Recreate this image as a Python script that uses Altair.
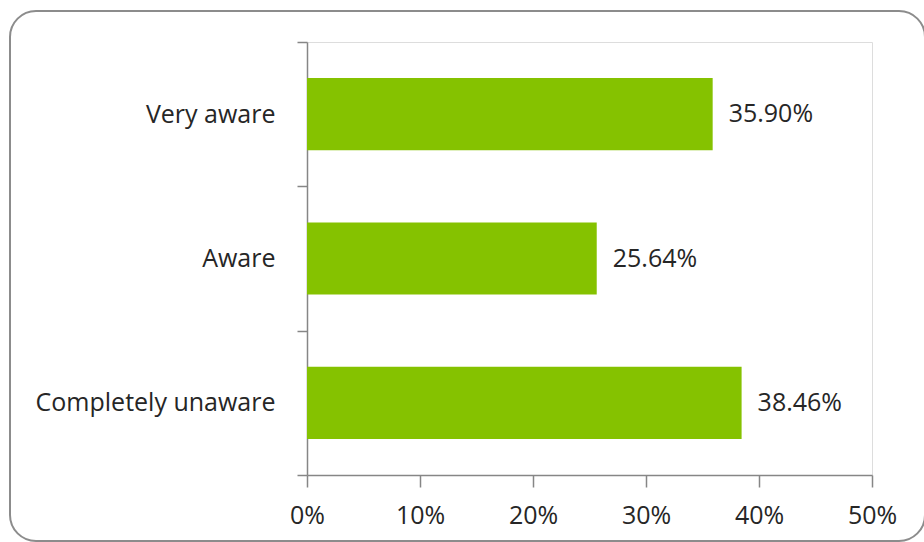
import altair as alt
import pandas as pd

categories = ["Very aware", "Aware", "Completely unaware"]
values = [35.90, 25.64, 38.46]
labels = ["35.90%", "25.64%", "38.46%"]

df = pd.DataFrame({"cat": categories, "val": values, "lab": labels})

FONT = "Open Sans"
FS = 25
TEXT = "#262626"
AXIS = "#868686"

y = alt.Y("cat:N", sort=categories, title=None,
          scale=alt.Scale(paddingInner=0, paddingOuter=0),
          axis=alt.Axis(tickBand="extent", tickSize=10, tickColor=AXIS,
                        domainColor=AXIS, domainWidth=1.5, tickWidth=1.5,
                        labelPadding=22, labelFont=FONT, labelFontSize=FS,
                        labelLimit=0, labelColor=TEXT))
x = alt.X("val:Q", title=None,
          scale=alt.Scale(domain=[0, 50], nice=False),
          axis=alt.Axis(values=[0, 10, 20, 30, 40, 50], labelExpr="datum.value + '%'",
                        tickSize=12, tickColor=AXIS, domainColor=AXIS,
                        domainWidth=1.5, tickWidth=1.5, grid=False,
                        labelFlush=False, labelOverlap=False,
                        labelPadding=16, labelFont=FONT, labelFontSize=FS,
                        labelColor=TEXT))

bars = alt.Chart(df).mark_bar(color="#85c200", height={"band": 0.5}).encode(x=x, y=y)
text = alt.Chart(df).mark_text(align="left", dx=16, font=FONT, fontSize=FS,
                               color=TEXT).encode(x="val:Q", y=alt.Y("cat:N", sort=categories), text="lab:N")

border = alt.Chart(pd.DataFrame({"a": [0]})).mark_rect(
    fill="transparent", stroke="#8c8c8c", strokeWidth=2, cornerRadius=26
).encode(x=alt.value(-297), x2=alt.value(618), y=alt.value(-31), y2=alt.value(499))

chart = alt.layer(border, bars, text).properties(
    width=565, height=433,
    autosize=alt.AutoSizeParams(type="none"),
    padding={"left": 307, "top": 42, "right": 52, "bottom": 67},
).configure_view(stroke=None).configure(background="white")

chart.save("out.html", embed_options={"renderer": "svg", "actions": False})
